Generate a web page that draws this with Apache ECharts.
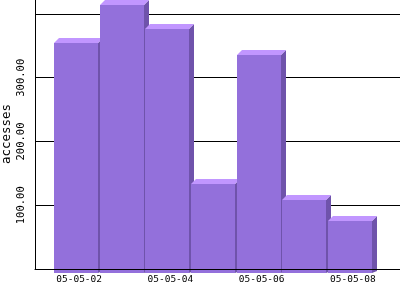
<!DOCTYPE html>
<html>
<head>
<meta charset="utf-8">
<script src="https://cdn.jsdelivr.net/npm/echarts@6/dist/echarts.min.js"></script>
<style>html,body{margin:0;padding:0;background:#fff}#c{width:400px;height:300px}</style>
</head>
<body>
<div id="c"></div>
<script>
const categories = ['05-05-02','05-05-03','05-05-04','05-05-05','05-05-06','05-05-07','05-05-08'];
const accesses = [355, 414, 377, 133, 336, 108, 75];
const xTickLabels = ['05-05-02','05-05-04','05-05-06','05-05-08'];
const yTickLabels = ['100.00','200.00','300.00'];
const yAxisName = 'accesses';

const dayOf = c => parseInt(c.split('-')[2], 10);
const FRONT = '#9370DB', TOP = '#C196FF', SIDE = '#6F53AB';

const chart = echarts.init(document.getElementById('c'), null, {renderer: 'canvas'});
chart.setOption({
  animation: false,
  grid: {left: 35, right: 0, top: -1, bottom: 31, containLabel: false, outerBoundsMode: 'none'},
  xAxis: {
    type: 'value', min: 1, max: 9, interval: 1, z: 10,
    axisLine: {show: true, lineStyle: {color: '#000', width: 1}},
    axisTick: {show: false},
    splitLine: {show: false},
    axisLabel: {
      margin: 6, color: '#000', fontFamily: 'DejaVu Sans Mono', fontSize: 9.5,
      showMinLabel: false, showMaxLabel: false, padding: [0, 3, 0, 0],
      formatter: v => { const c = categories.find(k => dayOf(k) === v); return (c && xTickLabels.includes(c)) ? c : ''; }
    }
  },
  yAxis: {
    type: 'value', min: 0, max: 423.5, interval: 100, z: 0,
    name: yAxisName, nameLocation: 'middle', nameRotate: 90, nameGap: 22, nameMoveOverlap: false,
    nameTextStyle: {color: '#000', fontFamily: 'DejaVu Sans Mono', fontSize: 12.5},
    axisLine: {show: true, lineStyle: {color: '#000', width: 1}},
    axisTick: {show: false},
    splitLine: {show: true, lineStyle: {color: '#000', width: 1}},
    axisLabel: {
      rotate: 90, margin: 8, color: '#000', fontFamily: 'DejaVu Sans Mono', fontSize: 10.5,
      formatter: v => { const s = v.toFixed(2); return yTickLabels.includes(s) ? s : ''; }
    }
  },
  series: [{
    type: 'custom',
    z: 5,
    clip: false,
    data: categories.map((c, i) => [dayOf(c), accesses[i]]),
    renderItem: (params, api) => {
      const x = api.value(0), v = api.value(1);
      const bw = api.size([1, 0])[0];
      const t = api.coord([x, v]), b = api.coord([x, 0]);
      const d = 5;
      const xl = Math.round(t[0] - bw * 0.583), xr = Math.round(t[0] - bw * 0.583 + bw * 0.965);
      const yt = Math.round(t[1]), yb = Math.round(b[1]) + 4;
      return {type: 'group', children: [
        {type: 'polygon', shape: {points: [[xr, yt], [xr + d, yt - d], [xr + d, yb - 2], [xr, yb]]}, style: {fill: SIDE}},
        {type: 'polygon', shape: {points: [[xl, yt], [xl + d, yt - d], [xr + d, yt - d], [xr, yt]]}, style: {fill: TOP}},
        {type: 'rect', shape: {x: xl, y: yt, width: xr - xl, height: yb - yt}, style: {fill: FRONT}}
      ]};
    }
  }]
});
</script>
</body>
</html>
